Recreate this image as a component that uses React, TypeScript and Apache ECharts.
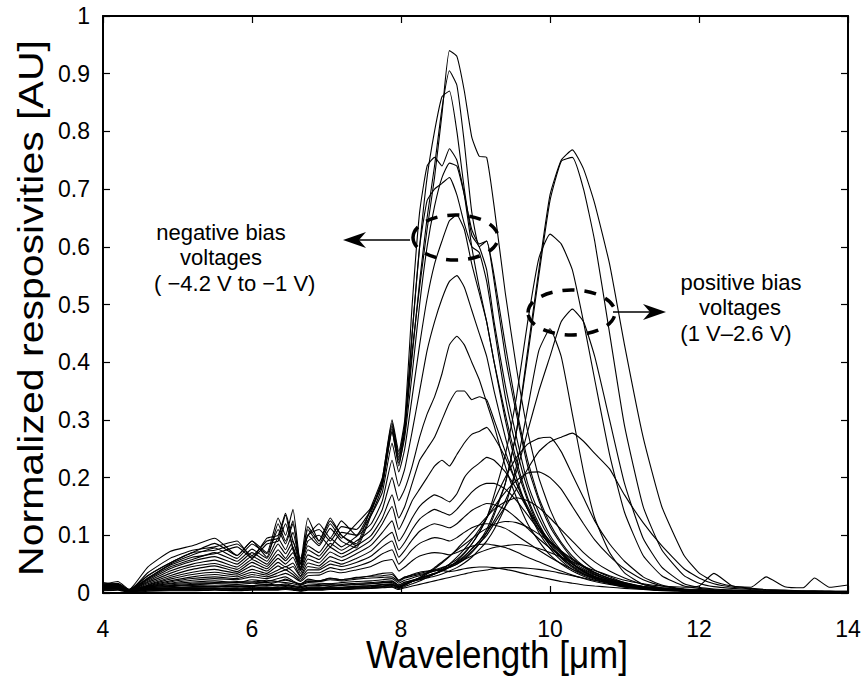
import React, { useEffect, useRef } from "react";
import * as echarts from "echarts";

// Wavelength grid [µm] shared by all curves (21 low-region + 24 peak-region + 15 tail points)
const WAVELENGTH = [
  4.0, 4.2, 4.35, 4.6, 4.9, 5.2, 5.5, 5.8, 6.0, 6.2, 6.35, 6.45, 6.55, 6.65, 6.75, 6.9, 7.05, 7.2, 7.4, 7.6, 7.75,
  7.88, 7.97, 8.05, 8.15, 8.25, 8.35, 8.45, 8.55, 8.65, 8.75, 8.85, 8.95, 9.05, 9.15, 9.25, 9.4, 9.55, 9.7, 9.85, 10.0, 10.15, 10.3, 10.45, 10.6,
  10.8, 11.0, 11.25, 11.5, 11.8, 12.0, 12.2, 12.45, 12.7, 12.9, 13.15, 13.4, 13.55, 13.75, 14.0,
];

const X_TICKS = [4, 6, 8, 10, 12, 14];
const Y_TICKS = [0, 0.1, 0.2, 0.3, 0.4, 0.5, 0.6, 0.7, 0.8, 0.9, 1];

// Negative bias voltages (-4.2 V ... -1 V)
const NEG_1 = [
  0.015, 0.02, 0.006, 0.045, 0.072, 0.082, 0.095, 0.065, 0.09, 0.07, 0.13, 0.1, 0.145, 0.05, 0.13, 0.09, 0.13, 0.1, 0.085, 0.15, 0.2,
  0.295, 0.24, 0.29, 0.42, 0.53, 0.63, 0.72, 0.83, 0.94, 0.93, 0.87, 0.79, 0.757, 0.755, 0.67, 0.52, 0.39, 0.28, 0.2, 0.145, 0.105, 0.075, 0.055, 0.04,
  0.028, 0.018, 0.011, 0.007, 0.005, 0.004, 0.004, 0.003, 0.003, 0.003, 0.002, 0.002, 0.002, 0.002, 0.002,
];
const NEG_2 = [
  0.012, 0.016, 0.004, 0.035, 0.06, 0.074, 0.08, 0.09, 0.06, 0.095, 0.1, 0.138, 0.09, 0.06, 0.1, 0.12, 0.095, 0.125, 0.1, 0.145, 0.195,
  0.29, 0.235, 0.28, 0.41, 0.54, 0.65, 0.74, 0.84, 0.905, 0.88, 0.78, 0.66, 0.6, 0.61, 0.54, 0.41, 0.31, 0.22, 0.16, 0.115, 0.085, 0.06, 0.045, 0.033,
  0.023, 0.015, 0.009, 0.006, 0.004, 0.003, 0.003, 0.003, 0.002, 0.002, 0.002, 0.002, 0.002, 0.002, 0.002,
];
const NEG_3 = [
  0.018, 0.014, 0.006, 0.03, 0.052, 0.07, 0.086, 0.065, 0.09, 0.062, 0.12, 0.09, 0.125, 0.04, 0.11, 0.085, 0.12, 0.095, 0.12, 0.148, 0.19,
  0.285, 0.23, 0.29, 0.45, 0.6, 0.72, 0.8, 0.86, 0.87, 0.8, 0.7, 0.62, 0.6, 0.56, 0.47, 0.36, 0.27, 0.19, 0.14, 0.1, 0.073, 0.052, 0.038, 0.028,
  0.02, 0.013, 0.008, 0.005, 0.004, 0.003, 0.003, 0.002, 0.002, 0.002, 0.002, 0.002, 0.002, 0.002, 0.002,
];
const NEG_4 = [
  0.014, 0.017, 0.005, 0.03, 0.052, 0.07, 0.074, 0.085, 0.065, 0.09, 0.095, 0.135, 0.075, 0.05, 0.115, 0.09, 0.125, 0.1, 0.082, 0.14, 0.198,
  0.3, 0.245, 0.3, 0.5, 0.66, 0.74, 0.755, 0.74, 0.77, 0.75, 0.69, 0.6, 0.53, 0.47, 0.4, 0.3, 0.22, 0.16, 0.115, 0.083, 0.06, 0.044, 0.033, 0.025,
  0.018, 0.012, 0.008, 0.005, 0.004, 0.003, 0.003, 0.002, 0.002, 0.002, 0.002, 0.002, 0.002, 0.002, 0.002,
];
const NEG_5 = [
  0.016, 0.015, 0.006, 0.026, 0.05, 0.066, 0.078, 0.06, 0.085, 0.068, 0.11, 0.085, 0.12, 0.055, 0.1, 0.11, 0.09, 0.115, 0.11, 0.145, 0.19,
  0.28, 0.225, 0.27, 0.38, 0.5, 0.6, 0.67, 0.72, 0.745, 0.74, 0.69, 0.63, 0.605, 0.61, 0.55, 0.43, 0.32, 0.23, 0.165, 0.12, 0.088, 0.064, 0.047, 0.035,
  0.025, 0.016, 0.01, 0.006, 0.004, 0.003, 0.003, 0.003, 0.002, 0.002, 0.002, 0.002, 0.002, 0.002, 0.002,
];
const NEG_6 = [
  0.013, 0.016, 0.004, 0.025, 0.048, 0.062, 0.068, 0.08, 0.06, 0.085, 0.09, 0.12, 0.078, 0.042, 0.1, 0.082, 0.112, 0.09, 0.078, 0.135, 0.185,
  0.28, 0.22, 0.28, 0.45, 0.6, 0.68, 0.7, 0.71, 0.72, 0.69, 0.64, 0.6, 0.59, 0.54, 0.46, 0.34, 0.25, 0.18, 0.13, 0.095, 0.07, 0.05, 0.037, 0.028,
  0.02, 0.013, 0.008, 0.005, 0.004, 0.003, 0.003, 0.002, 0.002, 0.002, 0.002, 0.002, 0.002, 0.002, 0.002,
];
const NEG_7 = [
  0.012, 0.014, 0.005, 0.024, 0.045, 0.058, 0.07, 0.055, 0.076, 0.06, 0.095, 0.075, 0.105, 0.05, 0.09, 0.1, 0.08, 0.105, 0.1, 0.135, 0.175,
  0.26, 0.21, 0.25, 0.34, 0.43, 0.51, 0.57, 0.61, 0.645, 0.655, 0.63, 0.57, 0.52, 0.47, 0.4, 0.31, 0.23, 0.165, 0.12, 0.087, 0.063, 0.046, 0.034, 0.026,
  0.019, 0.012, 0.008, 0.005, 0.004, 0.003, 0.003, 0.002, 0.002, 0.002, 0.002, 0.002, 0.002, 0.002, 0.002,
];
const NEG_8 = [
  0.014, 0.012, 0.004, 0.022, 0.042, 0.055, 0.063, 0.05, 0.07, 0.055, 0.085, 0.068, 0.09, 0.045, 0.082, 0.07, 0.095, 0.08, 0.098, 0.12, 0.16,
  0.23, 0.185, 0.215, 0.28, 0.35, 0.42, 0.47, 0.51, 0.54, 0.55, 0.53, 0.49, 0.45, 0.41, 0.35, 0.27, 0.2, 0.145, 0.105, 0.077, 0.056, 0.041, 0.031, 0.024,
  0.017, 0.011, 0.007, 0.005, 0.004, 0.003, 0.003, 0.002, 0.002, 0.002, 0.002, 0.002, 0.002, 0.002, 0.002,
];
const NEG_9 = [
  0.011, 0.013, 0.005, 0.02, 0.038, 0.05, 0.057, 0.045, 0.064, 0.05, 0.075, 0.06, 0.08, 0.04, 0.075, 0.064, 0.086, 0.074, 0.09, 0.11, 0.145,
  0.2, 0.16, 0.18, 0.22, 0.27, 0.31, 0.34, 0.38, 0.43, 0.445, 0.43, 0.4, 0.37, 0.33, 0.29, 0.22, 0.165, 0.12, 0.09, 0.066, 0.05, 0.038, 0.029, 0.022,
  0.016, 0.01, 0.007, 0.005, 0.004, 0.003, 0.003, 0.002, 0.002, 0.002, 0.002, 0.002, 0.002, 0.002, 0.002,
];
const NEG_10 = [
  0.013, 0.011, 0.004, 0.018, 0.034, 0.046, 0.051, 0.041, 0.058, 0.046, 0.067, 0.056, 0.07, 0.038, 0.066, 0.058, 0.079, 0.068, 0.082, 0.1, 0.13,
  0.17, 0.13, 0.15, 0.19, 0.23, 0.25, 0.27, 0.3, 0.33, 0.35, 0.35, 0.335, 0.34, 0.335, 0.3, 0.245, 0.19, 0.145, 0.11, 0.082, 0.062, 0.047, 0.036, 0.027,
  0.02, 0.013, 0.008, 0.005, 0.004, 0.003, 0.003, 0.002, 0.002, 0.002, 0.002, 0.002, 0.002, 0.002, 0.002,
];
const NEG_11 = [
  0.01, 0.012, 0.004, 0.016, 0.03, 0.041, 0.047, 0.037, 0.053, 0.042, 0.06, 0.05, 0.062, 0.034, 0.059, 0.052, 0.071, 0.062, 0.075, 0.092, 0.12,
  0.15, 0.11, 0.13, 0.16, 0.18, 0.2, 0.22, 0.23, 0.22, 0.24, 0.26, 0.275, 0.28, 0.287, 0.27, 0.235, 0.19, 0.15, 0.115, 0.088, 0.067, 0.05, 0.038, 0.029,
  0.021, 0.014, 0.009, 0.006, 0.004, 0.003, 0.003, 0.002, 0.002, 0.002, 0.002, 0.002, 0.002, 0.002, 0.002,
];
const NEG_12 = [
  0.012, 0.01, 0.003, 0.014, 0.027, 0.036, 0.041, 0.034, 0.047, 0.038, 0.053, 0.045, 0.052, 0.03, 0.052, 0.047, 0.063, 0.056, 0.068, 0.083, 0.105,
  0.125, 0.09, 0.105, 0.13, 0.15, 0.162, 0.17, 0.165, 0.158, 0.172, 0.2, 0.215, 0.225, 0.235, 0.23, 0.21, 0.18, 0.145, 0.115, 0.09, 0.07, 0.054, 0.042, 0.032,
  0.023, 0.016, 0.01, 0.006, 0.004, 0.003, 0.003, 0.002, 0.002, 0.002, 0.002, 0.002, 0.002, 0.002, 0.002,
];
const NEG_13 = [
  0.009, 0.011, 0.003, 0.013, 0.024, 0.032, 0.036, 0.031, 0.041, 0.034, 0.047, 0.04, 0.046, 0.028, 0.046, 0.043, 0.056, 0.05, 0.06, 0.073, 0.092,
  0.105, 0.075, 0.088, 0.11, 0.128, 0.138, 0.145, 0.14, 0.135, 0.145, 0.16, 0.175, 0.185, 0.19, 0.19, 0.18, 0.16, 0.135, 0.11, 0.09, 0.072, 0.057, 0.045, 0.035,
  0.025, 0.017, 0.011, 0.007, 0.005, 0.004, 0.003, 0.003, 0.002, 0.002, 0.002, 0.002, 0.002, 0.002, 0.002,
];
const NEG_14 = [
  0.011, 0.009, 0.003, 0.012, 0.021, 0.028, 0.032, 0.028, 0.036, 0.031, 0.04, 0.046, 0.037, 0.025, 0.04, 0.04, 0.05, 0.046, 0.053, 0.064, 0.08,
  0.09, 0.062, 0.074, 0.092, 0.107, 0.115, 0.12, 0.117, 0.113, 0.12, 0.132, 0.143, 0.15, 0.155, 0.153, 0.145, 0.13, 0.112, 0.094, 0.078, 0.063, 0.05, 0.04, 0.031,
  0.022, 0.015, 0.01, 0.006, 0.004, 0.003, 0.003, 0.002, 0.002, 0.002, 0.002, 0.002, 0.002, 0.002, 0.002,
];
const NEG_15 = [
  0.008, 0.01, 0.003, 0.011, 0.019, 0.025, 0.028, 0.025, 0.032, 0.028, 0.035, 0.04, 0.032, 0.022, 0.035, 0.035, 0.044, 0.04, 0.046, 0.055, 0.068,
  0.075, 0.05, 0.06, 0.075, 0.086, 0.092, 0.096, 0.094, 0.09, 0.096, 0.105, 0.113, 0.118, 0.12, 0.118, 0.112, 0.1, 0.087, 0.074, 0.062, 0.051, 0.041, 0.033, 0.026,
  0.019, 0.013, 0.009, 0.006, 0.004, 0.003, 0.003, 0.002, 0.002, 0.002, 0.002, 0.002, 0.002, 0.002, 0.002,
];
const NEG_16 = [
  0.01, 0.008, 0.002, 0.01, 0.017, 0.022, 0.025, 0.023, 0.028, 0.025, 0.03, 0.034, 0.028, 0.02, 0.03, 0.031, 0.038, 0.035, 0.04, 0.046, 0.055,
  0.058, 0.038, 0.045, 0.056, 0.064, 0.068, 0.07, 0.069, 0.066, 0.07, 0.076, 0.081, 0.084, 0.085, 0.083, 0.079, 0.071, 0.062, 0.054, 0.046, 0.038, 0.031, 0.025, 0.02,
  0.015, 0.011, 0.008, 0.005, 0.004, 0.003, 0.003, 0.002, 0.002, 0.002, 0.002, 0.002, 0.002, 0.002, 0.002,
];
const NEG_17 = [
  0.007, 0.008, 0.002, 0.008, 0.012, 0.015, 0.017, 0.018, 0.019, 0.018, 0.02, 0.022, 0.019, 0.014, 0.02, 0.021, 0.025, 0.023, 0.026, 0.03, 0.034,
  0.035, 0.022, 0.027, 0.032, 0.036, 0.038, 0.04, 0.039, 0.037, 0.039, 0.042, 0.044, 0.045, 0.045, 0.044, 0.041, 0.037, 0.032, 0.028, 0.024, 0.02, 0.017, 0.014, 0.012,
  0.01, 0.008, 0.006, 0.004, 0.003, 0.003, 0.002, 0.002, 0.002, 0.002, 0.002, 0.002, 0.002, 0.002, 0.002,
];

// Positive bias voltages (1 V ... 2.6 V)
const POS_1 = [
  0.012, 0.015, 0.006, 0.012, 0.016, 0.019, 0.021, 0.018, 0.023, 0.02, 0.025, 0.028, 0.021, 0.015, 0.024, 0.021, 0.026, 0.023, 0.027, 0.029, 0.03,
  0.032, 0.022, 0.028, 0.031, 0.034, 0.037, 0.04, 0.044, 0.048, 0.053, 0.062, 0.077, 0.09, 0.11, 0.14, 0.19, 0.28, 0.42, 0.56, 0.69, 0.75, 0.768, 0.735, 0.675,
  0.57, 0.43, 0.27, 0.15, 0.065, 0.035, 0.02, 0.012, 0.008, 0.006, 0.005, 0.004, 0.004, 0.003, 0.003,
];
const POS_2 = [
  0.013, 0.011, 0.005, 0.011, 0.014, 0.017, 0.018, 0.02, 0.019, 0.022, 0.02, 0.024, 0.019, 0.016, 0.021, 0.02, 0.023, 0.021, 0.024, 0.026, 0.027,
  0.028, 0.02, 0.026, 0.029, 0.032, 0.035, 0.038, 0.041, 0.045, 0.05, 0.058, 0.07, 0.085, 0.105, 0.135, 0.19, 0.28, 0.41, 0.55, 0.68, 0.748, 0.755, 0.7, 0.61,
  0.45, 0.29, 0.15, 0.075, 0.03, 0.017, 0.011, 0.008, 0.006, 0.005, 0.004, 0.003, 0.003, 0.003, 0.002,
];
const POS_3 = [
  0.011, 0.013, 0.004, 0.01, 0.013, 0.014, 0.016, 0.015, 0.017, 0.015, 0.019, 0.018, 0.016, 0.013, 0.018, 0.017, 0.016, 0.018, 0.02, 0.021, 0.023,
  0.025, 0.017, 0.022, 0.026, 0.03, 0.034, 0.038, 0.043, 0.05, 0.058, 0.07, 0.085, 0.105, 0.13, 0.17, 0.24, 0.34, 0.47, 0.58, 0.622, 0.605, 0.56, 0.47, 0.37,
  0.24, 0.14, 0.065, 0.03, 0.012, 0.008, 0.006, 0.005, 0.004, 0.003, 0.003, 0.003, 0.002, 0.002, 0.002,
];
const POS_4 = [
  0.009, 0.011, 0.004, 0.009, 0.011, 0.013, 0.012, 0.014, 0.013, 0.015, 0.014, 0.016, 0.013, 0.011, 0.014, 0.015, 0.016, 0.015, 0.017, 0.018, 0.02,
  0.021, 0.014, 0.019, 0.022, 0.026, 0.03, 0.034, 0.04, 0.046, 0.054, 0.064, 0.076, 0.09, 0.105, 0.125, 0.16, 0.21, 0.28, 0.35, 0.41, 0.47, 0.492, 0.47, 0.41,
  0.3, 0.19, 0.095, 0.045, 0.016, 0.01, 0.007, 0.005, 0.004, 0.003, 0.003, 0.002, 0.002, 0.002, 0.002,
];
const POS_5 = [
  0.01, 0.009, 0.004, 0.007, 0.009, 0.011, 0.012, 0.011, 0.013, 0.012, 0.014, 0.013, 0.012, 0.009, 0.013, 0.012, 0.014, 0.013, 0.015, 0.016, 0.018,
  0.018, 0.012, 0.016, 0.02, 0.023, 0.026, 0.029, 0.033, 0.038, 0.044, 0.052, 0.062, 0.075, 0.09, 0.11, 0.15, 0.22, 0.32, 0.42, 0.458, 0.41, 0.31, 0.21, 0.13,
  0.07, 0.035, 0.015, 0.008, 0.005, 0.004, 0.003, 0.003, 0.002, 0.002, 0.002, 0.002, 0.002, 0.002, 0.002,
];
const POS_6 = [
  0.008, 0.01, 0.003, 0.008, 0.009, 0.01, 0.011, 0.012, 0.011, 0.013, 0.012, 0.014, 0.011, 0.009, 0.012, 0.013, 0.014, 0.013, 0.015, 0.016, 0.018,
  0.02, 0.013, 0.018, 0.022, 0.026, 0.03, 0.034, 0.038, 0.044, 0.05, 0.06, 0.072, 0.086, 0.1, 0.12, 0.15, 0.18, 0.215, 0.245, 0.262, 0.27, 0.277, 0.263, 0.242,
  0.215, 0.17, 0.122, 0.082, 0.042, 0.026, 0.016, 0.01, 0.007, 0.005, 0.004, 0.003, 0.003, 0.003, 0.002,
];
const POS_7 = [
  0.009, 0.008, 0.003, 0.007, 0.008, 0.009, 0.009, 0.008, 0.01, 0.009, 0.01, 0.011, 0.009, 0.007, 0.01, 0.01, 0.011, 0.01, 0.012, 0.013, 0.015,
  0.016, 0.011, 0.016, 0.021, 0.025, 0.029, 0.033, 0.038, 0.045, 0.055, 0.068, 0.085, 0.105, 0.13, 0.16, 0.2, 0.235, 0.258, 0.268, 0.27, 0.245, 0.205, 0.165, 0.125,
  0.085, 0.055, 0.028, 0.014, 0.007, 0.005, 0.004, 0.003, 0.003, 0.002, 0.002, 0.002, 0.002, 0.002, 0.002,
];
const POS_8 = [
  0.008, 0.009, 0.003, 0.006, 0.007, 0.008, 0.008, 0.009, 0.008, 0.009, 0.009, 0.01, 0.008, 0.007, 0.009, 0.009, 0.01, 0.01, 0.011, 0.012, 0.014,
  0.015, 0.01, 0.015, 0.02, 0.024, 0.028, 0.033, 0.04, 0.05, 0.062, 0.076, 0.092, 0.11, 0.13, 0.15, 0.175, 0.195, 0.208, 0.21, 0.2, 0.18, 0.15, 0.12, 0.092,
  0.064, 0.042, 0.023, 0.012, 0.006, 0.004, 0.003, 0.003, 0.002, 0.002, 0.002, 0.002, 0.002, 0.002, 0.002,
];
const POS_9 = [
  0.007, 0.008, 0.003, 0.006, 0.007, 0.007, 0.008, 0.007, 0.008, 0.008, 0.008, 0.009, 0.008, 0.006, 0.008, 0.008, 0.009, 0.009, 0.01, 0.011, 0.012,
  0.014, 0.01, 0.014, 0.02, 0.026, 0.033, 0.042, 0.052, 0.063, 0.076, 0.09, 0.104, 0.118, 0.132, 0.145, 0.158, 0.165, 0.16, 0.148, 0.13, 0.11, 0.09, 0.07, 0.054,
  0.038, 0.026, 0.015, 0.009, 0.005, 0.004, 0.003, 0.003, 0.002, 0.002, 0.002, 0.002, 0.002, 0.002, 0.002,
];
const POS_10 = [
  0.006, 0.007, 0.002, 0.005, 0.006, 0.006, 0.007, 0.006, 0.007, 0.007, 0.007, 0.008, 0.007, 0.005, 0.007, 0.007, 0.008, 0.008, 0.009, 0.01, 0.011,
  0.013, 0.009, 0.013, 0.02, 0.027, 0.035, 0.044, 0.054, 0.064, 0.074, 0.084, 0.094, 0.104, 0.112, 0.119, 0.124, 0.122, 0.114, 0.102, 0.088, 0.073, 0.059, 0.047, 0.036,
  0.025, 0.018, 0.011, 0.007, 0.005, 0.004, 0.003, 0.003, 0.002, 0.002, 0.002, 0.002, 0.002, 0.002, 0.002,
];
const POS_11 = [
  0.005, 0.006, 0.002, 0.004, 0.005, 0.005, 0.006, 0.005, 0.006, 0.006, 0.006, 0.007, 0.006, 0.004, 0.006, 0.006, 0.007, 0.007, 0.008, 0.009, 0.01,
  0.011, 0.008, 0.011, 0.016, 0.021, 0.027, 0.033, 0.039, 0.046, 0.052, 0.058, 0.064, 0.07, 0.075, 0.079, 0.082, 0.084, 0.082, 0.077, 0.07, 0.062, 0.054, 0.046, 0.039,
  0.03, 0.022, 0.016, 0.012, 0.01, 0.012, 0.034, 0.012, 0.01, 0.028, 0.011, 0.009, 0.026, 0.01, 0.014,
];
const POS_12 = [
  0.004, 0.005, 0.001, 0.003, 0.004, 0.004, 0.005, 0.004, 0.005, 0.005, 0.005, 0.006, 0.005, 0.003, 0.005, 0.005, 0.006, 0.006, 0.007, 0.008, 0.009,
  0.01, 0.006, 0.009, 0.012, 0.015, 0.018, 0.021, 0.024, 0.027, 0.03, 0.033, 0.036, 0.038, 0.04, 0.042, 0.044, 0.044, 0.043, 0.041, 0.038, 0.034, 0.03, 0.026, 0.022,
  0.018, 0.014, 0.011, 0.009, 0.007, 0.006, 0.005, 0.004, 0.004, 0.003, 0.003, 0.003, 0.003, 0.003, 0.003,
];

const NEGATIVE_CURVES = [NEG_1, NEG_2, NEG_3, NEG_4, NEG_5, NEG_6, NEG_7, NEG_8, NEG_9, NEG_10, NEG_11, NEG_12, NEG_13, NEG_14, NEG_15, NEG_16, NEG_17];
const POSITIVE_CURVES = [POS_1, POS_2, POS_3, POS_4, POS_5, POS_6, POS_7, POS_8, POS_9, POS_10, POS_11, POS_12];

const FONT = '"Liberation Sans", Arial, Helvetica, sans-serif';

export default function App() {
  const ref = useRef<HTMLDivElement>(null);

  useEffect(() => {
    if (!ref.current) return;
    const chart = echarts.init(ref.current, null, { renderer: "svg" });

    const toSeries = (ys: number[], name: string) => ({
      name,
      type: "line",
      data: WAVELENGTH.map((w, i) => [w, ys[i]]).filter((p) => p[1] !== undefined),
      showSymbol: false,
      symbol: "none",
      smooth: 0.15,
      silent: true,
      lineStyle: { color: "#000", width: 1.1 },
    });

    const series = [
      ...NEGATIVE_CURVES.map((c, i) => toSeries(c, "neg" + i)),
      ...POSITIVE_CURVES.map((c, i) => toSeries(c, "pos" + i)),
    ];

    const axisLine = { show: true, onZero: false, lineStyle: { color: "#000", width: 2 } };
    const axisTick = { show: true, inside: true, length: 7, lineStyle: { color: "#000", width: 1.2 } };

    const fmtY = (v: number) => {
      const t = Y_TICKS.find((k) => Math.abs(k - v) < 1e-6);
      return t === undefined ? "" : String(parseFloat(t.toFixed(1)));
    };

    chart.setOption({
      animation: false,
      backgroundColor: "#fff",
      grid: { left: 103, top: 16, width: 745, height: 577, containLabel: false },
      xAxis: [
        {
          type: "value", min: X_TICKS[0], max: X_TICKS[X_TICKS.length - 1], interval: 2, position: "bottom",
          axisLine, axisTick,
          axisLabel: { color: "#000", fontSize: 23, fontFamily: FONT, margin: 24 },
          splitLine: { show: false },
        },
        {
          type: "value", min: X_TICKS[0], max: X_TICKS[X_TICKS.length - 1], interval: 2, position: "top",
          axisLine, axisTick, axisLabel: { show: false }, splitLine: { show: false },
        },
      ],
      yAxis: [
        {
          type: "value", min: 0, max: 1, interval: 0.1, position: "left",
          axisLine, axisTick,
          axisLabel: { color: "#000", fontSize: 23, fontFamily: FONT, margin: 13, formatter: fmtY },
          splitLine: { show: false },
        },
        {
          type: "value", min: 0, max: 1, interval: 0.1, position: "right",
          axisLine, axisTick, axisLabel: { show: false }, splitLine: { show: false },
        },
      ],
      series,
      graphic: [
        {
          type: "text", x: 497, y: 655, scaleY: 1.1,
          style: { text: "Wavelength [μm]", fontSize: 35, fontFamily: FONT, fill: "#000", align: "center", verticalAlign: "middle" },
        },
        {
          type: "text", x: 30, y: 308, rotation: Math.PI / 2, scaleX: 1.14,
          style: { text: "Normalized resposivities [AU]", fontSize: 36, fontFamily: FONT, fill: "#000", align: "center", verticalAlign: "middle" },
        },
        { type: "text", x: 221, y: 232, style: { text: "negative bias", fontSize: 22, fontFamily: FONT, fill: "#000", align: "center", verticalAlign: "middle" } },
        { type: "text", x: 221, y: 257, style: { text: "voltages", fontSize: 22, fontFamily: FONT, fill: "#000", align: "center", verticalAlign: "middle" } },
        { type: "text", x: 154, y: 283, style: { text: "( −4.2 V to −1 V)", fontSize: 22, fontFamily: FONT, fill: "#000", align: "left", verticalAlign: "middle" } },
        { type: "text", x: 741, y: 282, style: { text: "positive bias", fontSize: 22, fontFamily: FONT, fill: "#000", align: "center", verticalAlign: "middle" } },
        { type: "text", x: 740, y: 307, style: { text: "voltages", fontSize: 22, fontFamily: FONT, fill: "#000", align: "center", verticalAlign: "middle" } },
        { type: "text", x: 736, y: 333, style: { text: "(1 V–2.6 V)", fontSize: 22, fontFamily: FONT, fill: "#000", align: "center", verticalAlign: "middle" } },
        // arrows
        { type: "line", shape: { x1: 359, y1: 240, x2: 410, y2: 240 }, style: { stroke: "#000", lineWidth: 1.3 } },
        { type: "polygon", shape: { points: [[343, 240], [366, 232], [359, 240], [366, 248]] }, style: { fill: "#000" } },
        { type: "line", shape: { x1: 613, y1: 312, x2: 651, y2: 312 }, style: { stroke: "#000", lineWidth: 1.3 } },
        { type: "polygon", shape: { points: [[666, 312], [643, 304], [650, 312], [643, 320]] }, style: { fill: "#000" } },
        // dashed ellipses
        { type: "ellipse", shape: { cx: 455.5, cy: 237.5, rx: 42.5, ry: 22.5 }, style: { fill: "none", stroke: "#000", lineWidth: 3.5, lineDash: [12, 10] }, z: 100 },
        { type: "ellipse", shape: { cx: 571.5, cy: 312.5, rx: 43.5, ry: 22.5 }, style: { fill: "none", stroke: "#000", lineWidth: 3.5, lineDash: [12, 10] }, z: 100 },
      ],
    });

    return () => chart.dispose();
  }, []);

  return (
    <div
      ref={ref}
      style={{ position: "fixed", left: 0, top: 0, width: 866, height: 677, background: "#fff" }}
    />
  );
}
